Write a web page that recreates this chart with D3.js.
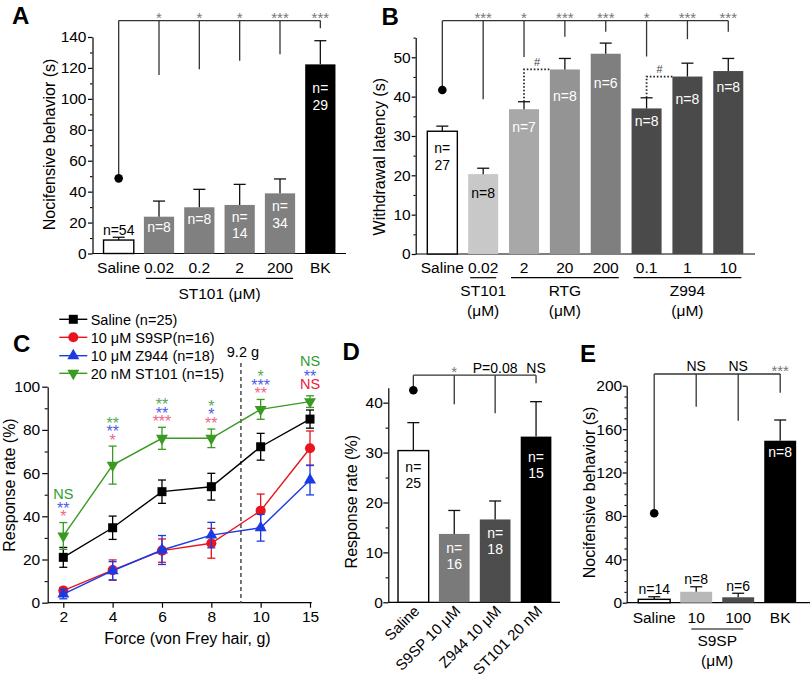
<!DOCTYPE html>
<html><head><meta charset="utf-8">
<script src="https://cdn.jsdelivr.net/npm/d3@7"></script>
<style>body{margin:0;background:#fff}svg{display:block}</style>
</head><body><svg id="c" width="810" height="682"></svg>
<script>
const FONT='"Liberation Sans", Arial, Helvetica, sans-serif';
// ================= DATA =================
// Panel A
const aCategories=["Saline","0.02","0.2","2","200","BK"];
const aValues=[8.7,23.8,29.9,31.4,38.9,122.3];
const aErrors=[1.8,10.1,11.6,13.3,9.3,15.3];
const aNLabels=["n=54","n=8","n=8","n=\n14","n=\n34","n=\n29"];
const aSig=["*","*","*","***","***"];
const aDrops=[115.4,119.1,124.7,128.8,145.6];
const aRefDot=48.6, aBracket=150.6;
const aYTicks=[0,20,40,60,80,100,120,140];
const aGroups=[{name:["ST101 (μM)"],from:"0.02",to:"200"}];
// Panel B
const bCategories=["Saline","0.02","2","20","200","0.1","1","10"];
const bValues=[31.2,20.3,36.8,46.9,50.9,37.0,45.1,46.5];
const bErrors=[1.3,1.5,1.9,2.8,2.7,2.7,3.4,3.2];
const bNLabels=["n=\n27","n=8","n=7","n=8","n=6","n=8","n=8","n=8"];
const bSig=["***","*","***","***","*","***","***"];
const bDrops=[39.3,50.1,55.2,56.5,50.2,54.6,56.5];
const bRefDot=41.7, bBracket=59.3;
const bYTicks=[0,10,20,30,40,50];
const bGroups=[{name:["ST101","(μM)"],from:"0.02",to:"0.02"},{name:["RTG","(μM)"],from:"2",to:"200"},{name:["Z994","(μM)"],from:"0.1",to:"10"}];
const bHash=[{from:"2",to:"20"},{from:"0.1",to:"1"}];
// Panel C
const cForces=["2","4","6","8","10","15"];
const cNames=["Saline (n=25)","10 μM S9SP(n=16)","10 μM Z944 (n=18)","20 nM ST101 (n=15)"];
const cSaline=[21.0,34.7,51.4,53.7,72.2,85.0];
const cSalineErr=[4.6,5.4,5.4,6.2,6.2,4.2];
const cS9SP=[5.6,15.1,24.1,27.5,42.6,71.5];
const cS9SPErr=[1.5,4.7,5.4,6.9,7.7,8.0];
const cZ944=[4.0,14.8,24.4,31.3,34.7,56.8];
const cZ944Err=[2.2,4.2,6.7,5.9,6.2,6.9];
const cST101=[30.9,63.7,76.1,76.1,89.5,93.1];
const cST101Err=[6.2,8.8,5.1,4.3,4.6,2.7];
const cSigS9SP=["*","*","***","**","**","NS"];
const cSigZ944=["**","**","**","*","***","**"];
const cSigST101=["NS","**","**","*","*","NS"];
const cThreshold=9.2;
const cYTicks=[0,20,40,60,80,100];
// Panel D
const dCategories=["Saline","S9SP 10 μM","Z944 10 μM","ST101 20 nM"];
const dValues=[30.4,13.7,16.6,33.2];
const dErrors=[5.6,4.7,3.7,7.0];
const dNLabels=["n=\n25","n=\n16","n=\n18","n=\n15"];
const dSig=["*","P=0.08","NS"];
const dDrops=[39.7,37.9,43.9];
const dRefDot=42.5, dBracket=45.5;
const dYTicks=[0,10,20,30,40];
// Panel E
const eCategories=["Saline","10","100","BK"];
const eValues=[3.1,10.1,5.0,149.3];
const eErrors=[2.4,4.6,3.7,19.1];
const eNLabels=["n=14","n=8","n=6","n=8"];
const eSig=["NS","NS","***"];
const eDrops=[180.6,167.7,193.5];
const eRefDot=82.4, eBracket=210.8;
const eYTicks=[0,40,80,120,160,200];
const eGroups=[{name:["S9SP","(μM)"],from:"10",to:"100"}];

// ================= DRAWING =================
const svg=d3.select("#c");
svg.append("rect").attr("width",810).attr("height",682).attr("fill","#fff");

function txt(g,x,y,s,fs,opts={}){
  return g.append("text").attr("x",x).attr("y",y).text(s)
    .attr("font-family",FONT).attr("font-size",fs)
    .attr("text-anchor",opts.anchor||"middle")
    .attr("font-weight",opts.weight||"normal")
    .attr("fill",opts.fill||"#000");
}
function yAxis(g,y,x0,major,minor,size,pad,fs){
  const a=g.append("g").attr("transform",`translate(${x0},0)`)
    .call(d3.axisLeft(y).tickValues(major).tickSize(size).tickSizeOuter(0).tickPadding(pad));
  a.attr("font-family",FONT).attr("font-size",fs);
  a.selectAll("text").attr("fill","#000");
  a.selectAll("line,path").attr("stroke","#000").attr("stroke-width",1.2);
  const m=g.append("g").attr("transform",`translate(${x0},0)`)
    .call(d3.axisLeft(y).tickValues(minor).tickSize(size*0.55).tickFormat(""));
  m.select(".domain").remove();
  m.selectAll("line").attr("stroke","#000").attr("stroke-width",1.1);
}
function vtitle(g,x,y,s){
  txt(g,0,0,s,16).attr("transform",`translate(${x},${y}) rotate(-90)`);
}

function barPanel(o){
  const g=svg.append("g");
  const x=d3.scaleBand().domain(o.cats).range(o.xr).paddingInner(o.pi).paddingOuter(o.pi/2);
  const y=d3.scaleLinear().domain(o.yd).range(o.yr);
  const bw=x.bandwidth();
  const cx=c=>x(c)+bw/2;
  // axes
  yAxis(g,y,o.axX,o.ticks,o.minor,o.tickLen,o.tickPad,15.5);
  g.append("line").attr("x1",o.axX).attr("x2",o.xEnd).attr("y1",y(0)).attr("y2",y(0))
    .attr("stroke","#000").attr("stroke-width",1.2);
  // bars
  g.selectAll("rect.bar").data(o.cats).join("rect").attr("class","bar")
    .attr("x",c=>x(c)).attr("width",bw)
    .attr("y",(c,i)=>y(o.values[i])).attr("height",(c,i)=>y(0)-y(o.values[i]))
    .attr("fill",(c,i)=>o.fills[i])
    .attr("stroke",(c,i)=>o.fills[i]==="#fff"?"#000":"none").attr("stroke-width",1.4);
  // error bars
  o.cats.forEach((c,i)=>{
    const v=o.values[i], e=o.errors[i];
    g.append("line").attr("x1",cx(c)).attr("x2",cx(c)).attr("y1",y(v)).attr("y2",y(v+e))
      .attr("stroke","#111").attr("stroke-width",1.3);
    g.append("line").attr("x1",cx(c)-6).attr("x2",cx(c)+6).attr("y1",y(v+e)).attr("y2",y(v+e))
      .attr("stroke","#111").attr("stroke-width",1.3);
  });
  // n labels
  o.cats.forEach((c,i)=>{
    const lines=o.labels[i].split("\n");
    const mode=o.labelMode[i];
    if(mode==="out"){
      const yc=y(o.values[i]+o.errors[i])-7.5;
      txt(g,cx(c),yc+5,lines[0],14,{fill:"#000"});
    } else {
      const yc=y(o.values[i])+o.labelDy[i];
      lines.forEach((l,k)=>txt(g,cx(c),yc+5+k*o.lh,l,14,{fill:o.labelFill[i]}));
    }
  });
  // bracket
  const by=y(o.bracket);
  const bs="#333";
  g.append("line").attr("x1",cx(o.cats[0])).attr("x2",cx(o.cats[o.cats.length-1]))
    .attr("y1",by).attr("y2",by).attr("stroke",bs).attr("stroke-width",1.3);
  g.append("line").attr("x1",cx(o.cats[0])).attr("x2",cx(o.cats[0]))
    .attr("y1",by).attr("y2",y(o.refDot)).attr("stroke",bs).attr("stroke-width",1.3);
  g.append("circle").attr("cx",cx(o.cats[0])).attr("cy",y(o.refDot)).attr("r",4.3).attr("fill","#000");
  o.cats.slice(1).forEach((c,i)=>{
    g.append("line").attr("x1",cx(c)).attr("x2",cx(c)).attr("y1",by).attr("y2",y(o.drops[i]))
      .attr("stroke",bs).attr("stroke-width",1.3);
    const s=o.sig[i];
    if(/^\*+$/.test(s)) txt(g,cx(c),by+2,s,15,{fill:"#777"});
    else txt(g,cx(c),by-2.5,s,14,{fill:"#000"});
  });
  // category labels
  if(o.rotate){
    o.cats.forEach(c=>{
      txt(g,0,0,c,15,{anchor:"end"}).attr("transform",`translate(${cx(c)+7},${o.catY}) rotate(-45)`);
    });
  } else {
    o.cats.forEach(c=>txt(g,cx(c),o.catY,c,15.5));
  }
  // groups
  (o.groups||[]).forEach(gr=>{
    const x1=x(gr.from)+o.gInset, x2=x(gr.to)+bw-o.gInset;
    g.append("line").attr("x1",x1).attr("x2",x2).attr("y1",o.gLineY).attr("y2",o.gLineY)
      .attr("stroke","#000").attr("stroke-width",1.2);
    gr.name.forEach((n,k)=>txt(g,(cx(gr.from)+cx(gr.to))/2,o.gTextY[k],n,15.5));
  });
  // dotted "#" connectors
  (o.hash||[]).forEach(h=>{
    const i=o.cats.indexOf(h.from), j=o.cats.indexOf(h.to);
    const yTop=y(o.values[j]);
    const x0=cx(h.from), x1=x(h.to);
    g.append("path").attr("d",`M${x0},${y(o.values[i]+o.errors[i])}V${yTop}H${x1}`)
      .attr("fill","none").attr("stroke","#222").attr("stroke-width",1.8).attr("stroke-dasharray","1.6,1.9");
    txt(g,(x0+x1)/2,yTop-3.5,"#",11,{fill:"#444"});
  });
  return {x,y};
}

// ---- Panel A ----
barPanel({cats:aCategories,values:aValues,errors:aErrors,labels:aNLabels,
  labelMode:["out","in","in","in","in","in"],labelDy:[0,10,12,11.7,12.7,24],lh:16.6,
  labelFill:["#000","#fff","#fff","#fff","#fff","#fff"],
  fills:["#fff","#808080","#808080","#808080","#808080","#000"],
  xr:[98.5,340.5],pi:0.25,yd:[0,140],yr:[253.5,37],axX:92.5,xEnd:346,
  ticks:aYTicks,minor:d3.range(10,140,20),tickLen:4.5,tickPad:1.5,
  bracket:aBracket,refDot:aRefDot,drops:aDrops,sig:aSig,catY:272.7,
  groups:aGroups,gInset:2,gLineY:278.3,gTextY:[298.8]});
const gA=svg.append("g");
vtitle(gA,55,144.5,"Nocifensive behavior (s)");
txt(gA,12,23.5,"A",24,{anchor:"start",weight:"bold"});

// ---- Panel B ----
barPanel({cats:bCategories,values:bValues,errors:bErrors,labels:bNLabels,
  labelMode:bCategories.map(()=>"in"),labelDy:[16.7,18.7,17.4,26.7,29,12.4,22,16.3],lh:17,
  labelFill:["#000","#000","#fff","#fff","#fff","#fff","#fff","#fff"],
  fills:["#fff","#c8c8c8","#a8a8a8","#949494","#7f7f7f","#4a4a4a","#4a4a4a","#4a4a4a"],
  xr:[421.9,748.7],pi:0.265,yd:[0,55],yr:[254,37.6],axX:415.7,xEnd:755,
  ticks:bYTicks,minor:d3.range(5,60,10),tickLen:4,tickPad:1,
  bracket:bBracket,refDot:bRefDot,drops:bDrops,sig:bSig,catY:272.7,
  groups:bGroups,gInset:2,gLineY:277.7,gTextY:[295.5,315.5],hash:bHash});
const gB=svg.append("g");
vtitle(gB,385,156.7,"Withdrawal latency (s)");
txt(gB,381.5,25,"B",24,{anchor:"start",weight:"bold"});

// ---- Panel D ----
barPanel({cats:dCategories,values:dValues,errors:dErrors,labels:dNLabels,
  labelMode:dCategories.map(()=>"in"),labelDy:[16,14.3,14,20.6],lh:16,
  labelFill:["#000","#fff","#fff","#fff"],
  fills:["#fff","#7a7a7a","#4d4d4d","#000"],
  xr:[392.9,556.5],pi:0.25,yd:[0,43],yr:[602.3,387.7],axX:388.3,xEnd:560,
  ticks:dYTicks,minor:d3.range(5,40,10),tickLen:5,tickPad:0.5,
  bracket:dBracket,refDot:dRefDot,drops:dDrops,sig:dSig,catY:612,rotate:true});
const gD=svg.append("g");
vtitle(gD,356.5,501.7,"Response rate (%)");
txt(gD,342.5,360,"D",24,{anchor:"start",weight:"bold"});

// ---- Panel E ----
barPanel({cats:eCategories,values:eValues,errors:eErrors,labels:eNLabels,
  labelMode:["out","out","out","in"],labelDy:[0,0,0,11],lh:16,
  labelFill:["#000","#000","#000","#fff"],
  fills:["#fff","#b8b8b8","#4d4d4d","#000"],
  xr:[633.2,801.2],pi:0.24,yd:[0,200],yr:[602.7,385.7],axX:626.7,xEnd:810,
  ticks:eYTicks,minor:d3.range(10,200,10).filter(v=>v%40!==0),tickLen:4,tickPad:0.5,
  bracket:eBracket,refDot:eRefDot,drops:eDrops,sig:eSig,catY:623,
  groups:eGroups,gInset:11,gLineY:629,gTextY:[645.5,665.7]});
const gE=svg.append("g");
vtitle(gE,594.8,492.5,"Nocifensive behavior (s)");
txt(gE,580,362,"E",24,{anchor:"start",weight:"bold"});

// ---- Panel C ----
(function(){
  const g=svg.append("g");
  const x=d3.scalePoint().domain(cForces).range([63.3,310]);
  const y=d3.scaleLinear().domain([0,100]).range([602.7,386.7]);
  yAxis(g,y,47.7,cYTicks,d3.range(10,100,20),5.5,2,15.5);
  g.append("line").attr("x1",47.7).attr("x2",311.7).attr("y1",y(0)).attr("y2",y(0))
    .attr("stroke","#000").attr("stroke-width",1.2);
  const xa=g.append("g").attr("transform",`translate(0,${y(0)})`)
    .call(d3.axisBottom(x).tickSize(5).tickPadding(3));
  xa.select(".domain").remove();
  xa.attr("font-family",FONT).attr("font-size",15.5);
  xa.selectAll("text").attr("fill","#000");
  xa.selectAll("line").attr("stroke","#000").attr("stroke-width",1.2);
  // threshold line
  const xt=x("8")+(cThreshold-8)/2*x.step();
  g.append("line").attr("x1",xt).attr("x2",xt).attr("y1",363).attr("y2",y(0))
    .attr("stroke","#555").attr("stroke-width",1.6).attr("stroke-dasharray","4,3");
  txt(g,xt+2,356.7,cThreshold+" g",14.5);

  const series=[
    {name:cNames[0],vals:cSaline,errs:cSalineErr,color:"#000",sym:d3.symbolSquare,size:81,rot:0},
    {name:cNames[1],vals:cS9SP,errs:cS9SPErr,color:"#e8141e",sym:d3.symbolCircle,size:80,rot:0},
    {name:cNames[2],vals:cZ944,errs:cZ944Err,color:"#1a3ae6",sym:d3.symbolTriangle,size:62,rot:0},
    {name:cNames[3],vals:cST101,errs:cST101Err,color:"#3a9a22",sym:d3.symbolTriangle,size:62,rot:180}
  ];
  series.forEach(s=>{
    const pts=cForces.map((f,i)=>[x(f),y(s.vals[i])]);
    cForces.forEach((f,i)=>{
      const xx=x(f), v=s.vals[i], e=s.errs[i];
      g.append("line").attr("x1",xx).attr("x2",xx).attr("y1",y(v-e)).attr("y2",y(v+e))
        .attr("stroke",s.color).attr("stroke-width",1.3);
      [v-e,v+e].forEach(w=>g.append("line").attr("x1",xx-4).attr("x2",xx+4).attr("y1",y(w)).attr("y2",y(w))
        .attr("stroke",s.color).attr("stroke-width",1.3));
    });
    g.append("path").attr("d",d3.line()(pts)).attr("fill","none").attr("stroke",s.color).attr("stroke-width",1.4);
    pts.forEach(p=>g.append("path").attr("d",d3.symbol(s.sym,s.size)())
      .attr("transform",`translate(${p[0]},${p[1]}) rotate(${s.rot})`).attr("fill",s.color));
  });
  // legend
  const ly=[319.3,337.3,355.7,373.3];
  series.forEach((s,k)=>{
    g.append("line").attr("x1",59.3).attr("x2",87.3).attr("y1",ly[k]).attr("y2",ly[k])
      .attr("stroke",s.color).attr("stroke-width",1.4);
    g.append("path").attr("d",d3.symbol(s.sym,s.size)())
      .attr("transform",`translate(73.3,${ly[k]}) rotate(${s.rot})`).attr("fill",s.color);
    txt(g,90.7,ly[k]+5.2,s.name,14.5,{anchor:"start"});
  });
  // significance annotations (stacked above ST101 error bars), one text element per force
  const rows=[{sig:cSigS9SP,star:"#ef6585",ns:"#e8203a"},{sig:cSigZ944,star:"#4a5ee8",ns:"#4a5ee8"},{sig:cSigST101,star:"#55aa55",ns:"#2e9e2e"}];
  cForces.forEach((f,i)=>{
    let cur=y(cST101[i]+cST101Err[i])-5;
    const t=g.append("text").attr("font-family",FONT).attr("text-anchor","middle");
    rows.forEach(r=>{
      const s=r.sig[i];
      if(s==="NS"){
        const c=cur-7;
        t.append("tspan").attr("x",x(f)).attr("y",c+5.2).attr("font-size",14.5).attr("fill",r.ns).text(s);
        cur-=14;
      } else {
        const c=cur-4.25;
        t.append("tspan").attr("x",x(f)).attr("y",c+9.1).attr("font-size",16).attr("fill",r.star).text(s);
        cur-=8.5;
      }
    });
  });
  vtitle(g,15,485,"Response rate (%)");
  txt(g,187.5,643.8,"Force (von Frey hair, g)",16);
  txt(g,13,351.5,"C",24,{anchor:"start",weight:"bold"});
})();
</script></body></html>
